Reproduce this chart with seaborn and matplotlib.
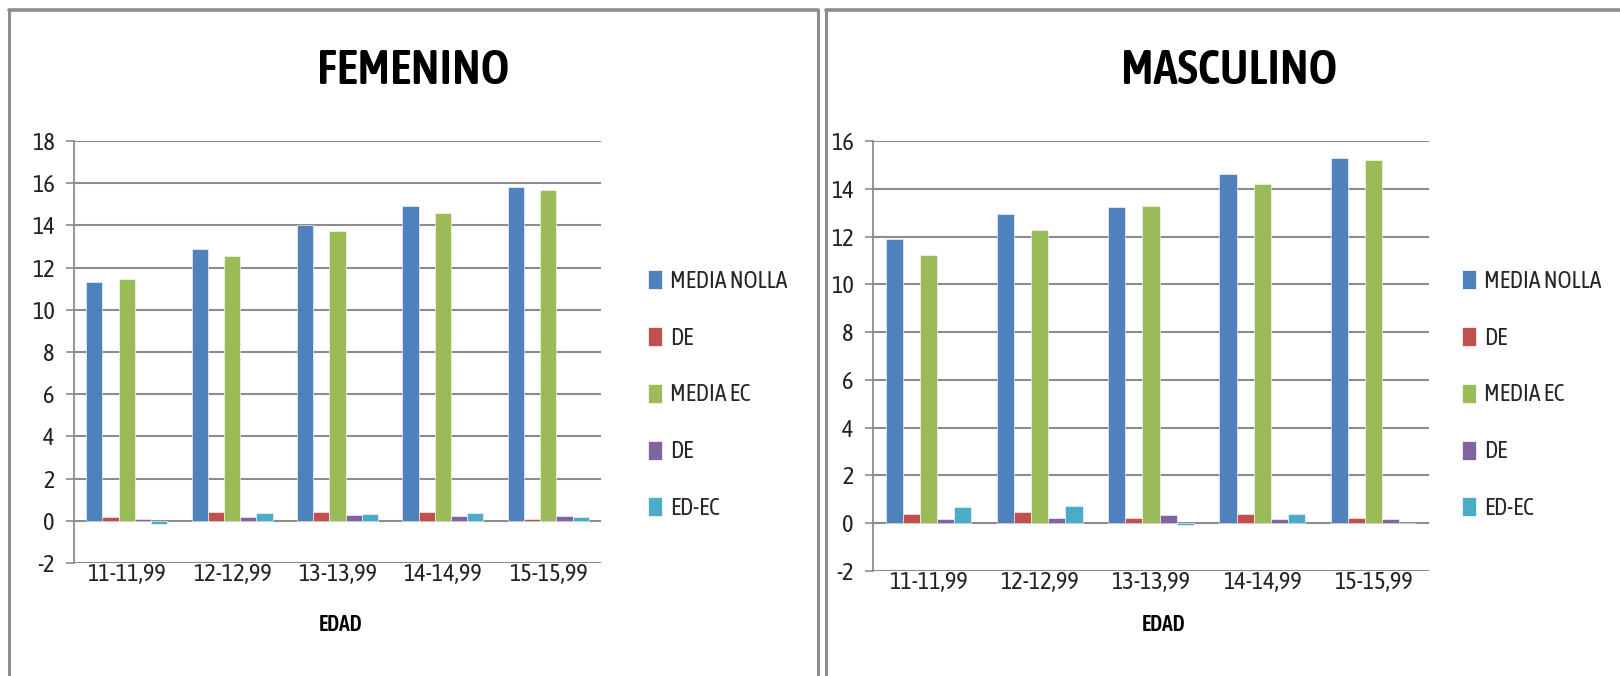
import matplotlib
matplotlib.use("Agg")
import matplotlib.pyplot as plt
from matplotlib import font_manager
from matplotlib.patches import Patch
from matplotlib.lines import Line2D
import seaborn as sns
import pandas as pd

# Age groups and series
categories = ["11-11,99", "12-12,99", "13-13,99", "14-14,99", "15-15,99"]
series_labels = ["MEDIA NOLLA", "DE", "MEDIA EC", "DE", "ED-EC"]
series_keys = ["media_nolla", "de_nolla", "media_ec", "de_ec", "ed_ec"]
colors = ["#4F81BD", "#C0504D", "#9BBB59", "#8064A2", "#4BACC6"]

fem_media_nolla = [11.32, 12.89, 14.01, 14.94, 15.80]
fem_de_nolla = [0.16, 0.44, 0.44, 0.44, 0.09]
fem_media_ec = [11.45, 12.53, 13.74, 14.58, 15.66]
fem_de_ec = [0.10, 0.16, 0.28, 0.24, 0.25]
fem_ed_ec = [-0.17, 0.38, 0.30, 0.38, 0.17]

masc_media_nolla = [11.90, 12.96, 13.23, 14.60, 15.28]
masc_de_nolla = [0.40, 0.46, 0.21, 0.40, 0.21]
masc_media_ec = [11.21, 12.28, 13.28, 14.22, 15.21]
masc_de_ec = [0.17, 0.21, 0.34, 0.17, 0.17]
masc_ed_ec = [0.66, 0.71, -0.08, 0.40, 0.00]

fem_ticks = list(range(-2, 19, 2))
masc_ticks = list(range(-2, 17, 2))

sns.set_theme(style="white")

# Look for a narrow face, preferring families that ship both regular and bold
narrow = {}
for f in font_manager.fontManager.ttflist:
    name = f.name.lower()
    if "narrow" in name or "condensed" in name:
        w = f.weight if isinstance(f.weight, int) else font_manager.weight_dict.get(f.weight, 400)
        narrow.setdefault(f.name, set()).add(w)


def rank(item):
    name, weights = item
    has_bold = any(w >= 600 for w in weights)
    has_regular = any(380 <= w <= 500 for w in weights)
    return (has_bold and has_regular, has_regular, has_bold, "liberation" in name.lower())


narrow_family = max(narrow.items(), key=rank)[0] if narrow else None
narrow_has_bold = narrow_family is not None and any(w >= 600 for w in narrow[narrow_family])

if narrow_family is not None:
    plt.rcParams["font.family"] = [narrow_family, "DejaVu Sans"]
    scale = 1.0
else:
    plt.rcParams["font.family"] = ["Liberation Sans", "DejaVu Sans"]
    scale = 0.85

title_family = [narrow_family, "DejaVu Sans"] if narrow_has_bold else ["Liberation Sans", "DejaVu Sans"]
title_scale = 1.0 if narrow_has_bold else 0.82
title_weight = "semibold" if narrow_has_bold and any(
    550 <= w <= 650 for w in narrow[narrow_family]) else "bold"

tick_fs = 17.5 * scale
legend_fs = 17 * scale
title_fs = 35 * title_scale
xlab_fs = 15.5 * title_scale


def long_frame(values):
    rows = []
    for key, vals in zip(series_keys, values):
        for cat, v in zip(categories, vals):
            rows.append({"edad": cat, "serie": key, "valor": v})
    return pd.DataFrame(rows)


fem_df = long_frame([fem_media_nolla, fem_de_nolla, fem_media_ec, fem_de_ec, fem_ed_ec])
masc_df = long_frame([masc_media_nolla, masc_de_nolla, masc_media_ec, masc_de_ec, masc_ed_ec])

W, H = 1620, 676
fig = plt.figure(figsize=(W / 100, H / 100), dpi=100)
fig.patch.set_facecolor("white")

# Panel frames
frame_color = "#8C8C8C"
for x0, x1 in [(9, 818), (826, 1640)]:
    fig.add_artist(Line2D([x0 / W, x0 / W], [0, 1 - 10 / H], color=frame_color, lw=2.2,
                          transform=fig.transFigure))
    fig.add_artist(Line2D([x1 / W, x1 / W], [0, 1 - 10 / H], color=frame_color, lw=2.2,
                          transform=fig.transFigure))
    fig.add_artist(Line2D([x0 / W, x1 / W], [1 - 10 / H, 1 - 10 / H], color=frame_color, lw=2.6,
                          transform=fig.transFigure))


def draw_panel(df, rect, ticks, title, title_x, xlabel_x, legend_x):
    ax = fig.add_axes(rect)
    sns.barplot(data=df, x="edad", y="valor", hue="serie", order=categories,
                hue_order=series_keys, palette=colors, width=0.77, gap=0,
                saturation=1, errorbar=None, ax=ax, legend=False,
                edgecolor="white", linewidth=0.4)
    ax.set_ylim(ticks[0], ticks[-1])
    ax.set_yticks(ticks)
    ax.set_yticklabels([str(t) for t in ticks], fontsize=tick_fs, color="#222222")
    ax.set_xlim(-0.5, len(categories) - 0.5)
    ax.set_xticks(range(len(categories)))
    ax.set_xticklabels(categories, fontsize=tick_fs, color="#222222")
    ax.tick_params(axis="x", length=0, pad=0)
    ax.tick_params(axis="y", length=6, width=1.2, color="#8C8C8C", direction="out", pad=8, left=True)
    ax.set_xlabel("")
    ax.set_ylabel("")
    for t in ticks:
        ax.axhline(t, color="#8C8C8C", lw=1.5, zorder=0)
    for side in ["top", "right", "bottom"]:
        ax.spines[side].set_visible(False)
    ax.spines["left"].set_color("#8C8C8C")
    ax.spines["left"].set_linewidth(1.3)
    ax.set_facecolor("none")

    fig.text(title_x / W, 1 - 70 / H, title, ha="center", va="center",
             fontsize=title_fs, fontweight=title_weight, color="black", family=title_family)
    fig.text(xlabel_x / W, 1 - 625 / H, "EDAD", ha="center", va="center",
             fontsize=xlab_fs, fontweight=title_weight, color="black", family=title_family)

    handles = [Patch(facecolor=c, edgecolor="white", linewidth=0.5) for c in colors]
    fig.legend(handles, series_labels, loc="center left",
               bbox_to_anchor=(legend_x / W, 1 - 395 / H), frameon=False,
               fontsize=legend_fs, handlelength=0.6, handleheight=0.85, handletextpad=0.35,
               labelspacing=1.43, borderpad=0, borderaxespad=0)
    return ax


draw_panel(fem_df, [74 / W, 113 / H, (601 - 74) / W, (563 - 141) / H], fem_ticks,
           "FEMENINO", 413, 341, 648)
draw_panel(masc_df, [873 / W, 105 / H, (1429 - 873) / W, (571 - 141) / H], masc_ticks,
           "MASCULINO", 1229, 1164, 1462)

fig.savefig("out.png", dpi=100, facecolor="white")
